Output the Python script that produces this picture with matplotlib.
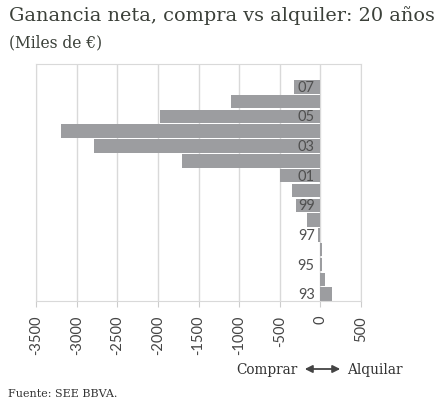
import numpy as np
import matplotlib.pyplot as plt
from matplotlib.patches import FancyArrowPatch

# años 1993 -> 2007, ganancia neta compra vs alquiler (miles de euros)
years = ['93', '94', '95', '96', '97', '98', '99', '00', '01', '02', '03', '04', '05', '06', '07']
values = [140, 60, 15, 20, -35, -168, -295, -353, -500, -1707, -2790, -3196, -1977, -1104, -325]
xticks = [-3500, -3000, -2500, -2000, -1500, -1000, -500, 0, 500]

plt.rcParams['font.family'] = ['DejaVu Serif']
sans = ['Lato', 'DejaVu Sans']

fig = plt.figure(figsize=(4.4, 4.06), dpi=100)
ax = fig.add_axes([36 / 440, 1 - 302 / 406, 325 / 440, (302 - 64.5) / 406])

pos = np.arange(len(years))
ax.barh(pos, values, height=0.91, color='#9c9da0', zorder=2)

ax.set_xlim(-3500, 500)
ax.set_ylim(-0.46, 15.57)
ax.set_xticks(xticks)
ax.set_xticklabels([str(t) for t in xticks], rotation=90, fontsize=10.5,
                   color='#444444', family=sans)
ax.set_yticks([])
ax.grid(axis='x', color='#d9d9d9', linewidth=1, zorder=0)
ax.tick_params(axis='x', length=4, color='#cccccc', pad=6)
for s in ax.spines.values():
    s.set_color('#d9d9d9')

# etiquetas de año sobre las barras (años impares)
for i, y in enumerate(years):
    if i % 2 == 0:
        ax.text(-70, i, y, ha='right', va='center', fontsize=10.5, color='#505050',
                family=sans, zorder=3)

fig.text(9 / 440, 1 - 21 / 406, 'Ganancia neta, compra vs alquiler: 20 años',
         fontsize=13.9, color='#3b4039', va='baseline')
fig.text(9 / 440, 1 - 47 / 406, '(Miles de €)', fontsize=11.2, color='#3b4039', va='baseline')

fig.text(297 / 440, 1 - 370 / 406, 'Comprar', fontsize=9.8, color='#333333', ha='right', va='center')
fig.text(347 / 440, 1 - 370 / 406, 'Alquilar', fontsize=9.8, color='#333333', ha='left', va='center')
fig.add_artist(FancyArrowPatch(
    (302 / 440, 1 - 370 / 406), (343 / 440, 1 - 370 / 406), transform=fig.transFigure,
    arrowstyle='<|-|>', mutation_scale=11, color='#444444', linewidth=1.3))

fig.text(8 / 440, 1 - 397 / 406, 'Fuente: SEE BBVA.', fontsize=8, color='#333333', va='baseline')

fig.savefig('out.png', dpi=100)
